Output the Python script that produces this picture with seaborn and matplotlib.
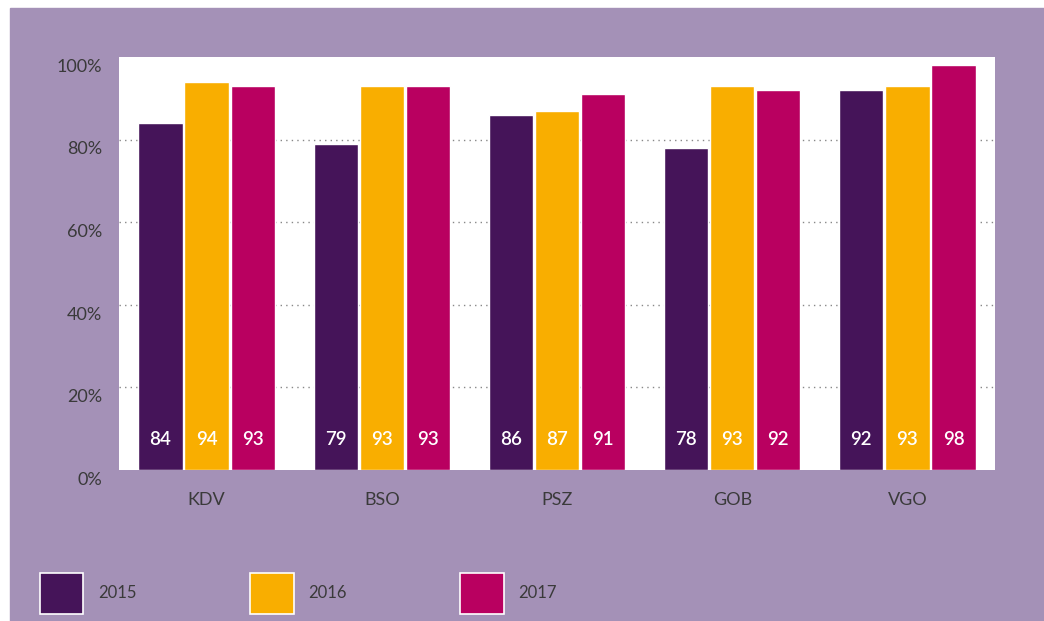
import matplotlib
matplotlib.use("Agg")
import matplotlib.pyplot as plt
import matplotlib.patches as mpatches
import matplotlib.transforms as mtrans
import pandas as pd
import seaborn as sns

categories = ["KDV", "BSO", "PSZ", "GOB", "VGO"]
years = ["2015", "2016", "2017"]
values_2015 = [84, 79, 86, 78, 92]
values_2016 = [94, 93, 87, 93, 93]
values_2017 = [93, 93, 91, 92, 98]
yticks = [0, 20, 40, 60, 80, 100]

colors = ["#451459", "#F9AE00", "#B90060"]
bg = "#A491B7"
text_col = "#3A3A3A"

df = pd.DataFrame({
    "cat": categories * 3,
    "year": [y for y in years for _ in categories],
    "value": values_2015 + values_2016 + values_2017,
})

sns.set_theme(style="white")
plt.rcParams["font.family"] = ["Lato", "DejaVu Sans"]

fig = plt.figure(figsize=(10.44, 6.21), dpi=100, facecolor="white")
fig.patches.append(mpatches.Rectangle((10 / 1044, 0), 1, (621 - 8) / 621,
                                      transform=fig.transFigure, color=bg, zorder=-5))

ax = fig.add_axes([119 / 1044, (621 - 470) / 621, (995 - 119) / 1044, (470 - 57) / 621])
ax.set_facecolor("white")

sns.barplot(data=df, x="cat", y="value", hue="year", palette=colors, saturation=1,
            width=0.79, gap=0.04, edgecolor="white", linewidth=1, ax=ax, legend=False, zorder=3)

ax.set_xlim(-0.5, 4.5)
ax.set_ylim(0, 100)
ax.set_yticks(yticks)
ax.set_yticklabels([f"{t}%" for t in yticks])
ax.tick_params(axis="y", length=0, pad=12, labelsize=13, labelcolor=text_col)
ax.tick_params(axis="x", length=0, pad=16, labelsize=13, labelcolor=text_col)
# labels sit a little below the gridlines in the original
off = mtrans.ScaledTranslation(0, -6 / 72, fig.dpi_scale_trans)
for lab in ax.get_yticklabels():
    lab.set_transform(lab.get_transform() + off)
ax.set_xlabel("")
ax.set_ylabel("")
for s in ax.spines.values():
    s.set_visible(False)

for g in [20, 40, 60, 80]:
    ax.axhline(g, color="#888888", linestyle=(0, (1, 3)), linewidth=1, zorder=1)

for container in ax.containers:
    for bar, v in zip(container.patches, container.datavalues):
        ax.text(bar.get_x() + bar.get_width() / 2, 7.5, f"{int(v)}", ha="center", va="center",
                color="white", fontsize=13.5, fontweight="semibold", zorder=4)

handles = [mpatches.Patch(facecolor=c, edgecolor="white", linewidth=1.2) for c in colors]
fig.legend(handles, years, loc="lower left", bbox_to_anchor=(25 / 1044, -8 / 621), ncol=3,
           frameon=False, fontsize=12, handlelength=2.6, handleheight=3.4,
           handletextpad=0.9, columnspacing=6.8, labelcolor=text_col)

fig.savefig("out.png", dpi=100, facecolor=fig.get_facecolor())
